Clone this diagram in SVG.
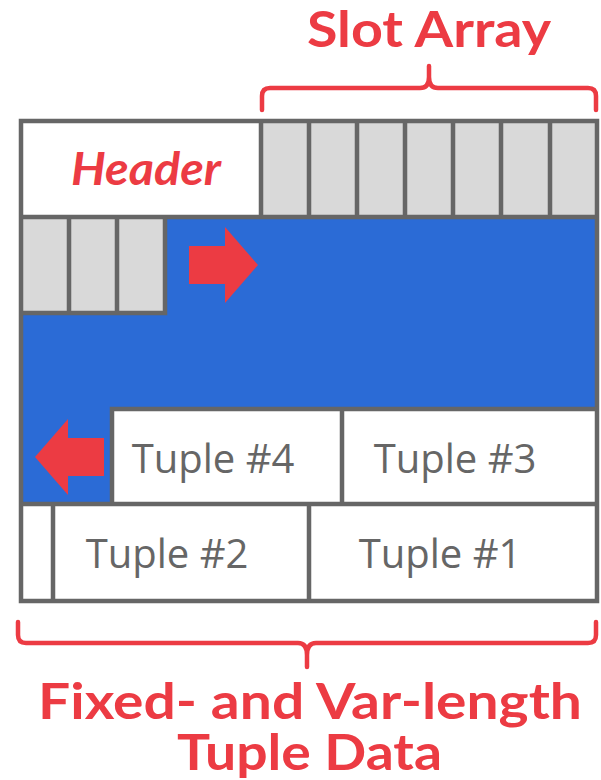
<svg xmlns="http://www.w3.org/2000/svg" width="601" height="780" viewBox="0 0 601 780">
<style>
.ln{stroke:#666666;stroke-width:4.5;fill:none}
.slot{fill:#D9D9D9}
.red{fill:#EC3B43}
.brace{stroke:#EC3B43;stroke-width:4.5;fill:none;stroke-linecap:round}
.lbl{font-family:Lato,"Open Sans",sans-serif;font-weight:bold;fill:#EC3B43}
.tup{font-family:"Open Sans","Noto Sans",sans-serif;fill:#666666;font-size:40px}
</style>
<rect x="0" y="0" width="601" height="780" fill="#ffffff"/>
<g id="free-space">
<path d="M21,217 H597 V409 H112 V504 H21 Z" fill="#2B6BD6"/>
</g>
<g id="header">
<rect x="21" y="121" width="240" height="96" fill="#ffffff"/>
<text x="71" y="185" class="lbl" font-size="45" font-style="italic" textLength="150" lengthAdjust="spacingAndGlyphs">Header</text>
</g>
<g id="slot-array">
<rect x="261" y="121" width="336" height="96" class="slot"/>
<rect x="21" y="217" width="144" height="96" class="slot"/>
</g>
<g id="tuple4">
<rect x="112" y="409" width="230" height="95" fill="#ffffff"/>
<text x="213" y="473" class="tup" text-anchor="middle">Tuple #4</text>
</g>
<g id="tuple3">
<rect x="342" y="409" width="255" height="95" fill="#ffffff"/>
<text x="455" y="473" class="tup" text-anchor="middle">Tuple #3</text>
</g>
<g id="tuple2">
<rect x="53" y="504" width="256" height="97" fill="#ffffff"/>
<text x="167" y="568" class="tup" text-anchor="middle">Tuple #2</text>
</g>
<g id="tuple1">
<rect x="309" y="504" width="288" height="97" fill="#ffffff"/>
<text x="440" y="568" class="tup" text-anchor="middle">Tuple #1</text>
</g>
<g id="small-cell">
<rect x="21" y="504" width="32" height="97" fill="#ffffff"/>
</g>
<g id="grid">
<rect x="21" y="121" width="576" height="480" class="ln"/>
<path class="ln" d="M21,217 H597 M261,121 V217 M309,121 V217 M357,121 V217 M405,121 V217 M453,121 V217 M501,121 V217 M550,121 V217"/>
<path class="ln" d="M21,313 H165 V217 M69,217 V313 M117,217 V313"/>
<path class="ln" d="M112,504 V409 H597 M342,409 V504 M21,504 H597 M53,504 V601 M309,504 V601"/>
</g>
<g id="arrows">
<polygon class="red" points="189,246 225,246 225,227 258,265 225,303 225,284 189,284"/>
<polygon class="red" points="104,438 68,438 68,419 35,457 68,495 68,476 104,476"/>
</g>
<g id="braces">
<path class="brace" d="M262,110 V96 Q262,88 270,88 H420 Q429,88 429,77 V66 M429,77 Q429,88 438,88 H588 Q596,88 596,96 V110"/>
<path class="brace" d="M18,622 V635 Q18,643 26,643 H298 Q307,643 307,655 V667 M307,655 Q307,643 316,643 H588 Q596,643 596,635 V622"/>
</g>
<g id="labels">
<text x="307" y="47" class="lbl" font-size="49" textLength="244" lengthAdjust="spacingAndGlyphs">Slot Array</text>
<text x="38" y="719" class="lbl" font-size="50" textLength="544" lengthAdjust="spacingAndGlyphs">Fixed- and Var-length</text>
<text x="177" y="770" class="lbl" font-size="50" textLength="265" lengthAdjust="spacingAndGlyphs">Tuple Data</text>
</g>
</svg>
